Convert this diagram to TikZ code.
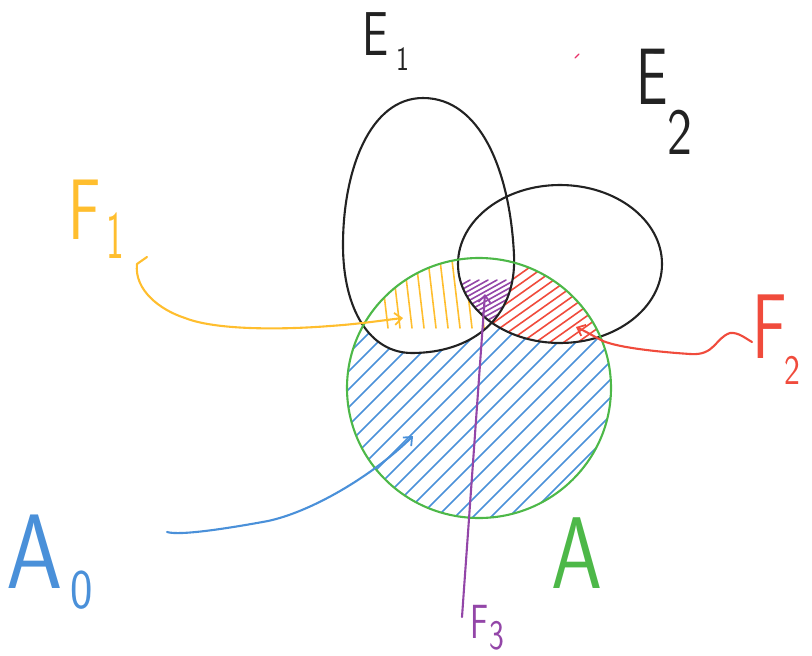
\documentclass[tikz,border=0pt]{standalone}
\usetikzlibrary{arrows.meta}
\definecolor{cblk}{HTML}{222222}
\definecolor{cgreen}{HTML}{4DB848}
\definecolor{cyel}{HTML}{FFBE2E}
\definecolor{cred}{HTML}{F04B3C}
\definecolor{cblue}{HTML}{4A90D9}
\definecolor{cpurp}{HTML}{9346A8}
\definecolor{cpink}{HTML}{E8336A}
\newcommand\hwsz[1]{\fontsize{#1}{#1}\selectfont}
\begin{document}
\begin{tikzpicture}[x=1pt,y=-1pt,line cap=round,line join=round,
  stroke/.style={line width=2.1pt},
  hatch/.style={line width=1.6pt},
  lbl/.style={inner sep=0pt,anchor=base west,font=\sffamily},
  tip/.style={-{Straight Barb[length=7pt,width=12pt,line width=1.8pt]}},
  pEone/.style={insert path={(423,98) .. controls (480,98) and (510,170) .. (514,255) .. controls (517,320) and (470,353) .. (412,353) .. controls (370,353) and (343,310) .. (343,245) .. controls (343,170) and (370,98) .. (423,98) -- cycle}},
  pEtwo/.style={insert path={(560,264) ellipse [x radius=102,y radius=79]}},
  pA/.style={insert path={(479,388) ellipse [x radius=132,y radius=130]}},
  outside/.style={insert path={(-50,-50) rectangle (900,750)}}]
\useasboundingbox (0,0) rectangle (812,656);

% hatching: yellow  (E1 and A, not E2)
\begin{scope}[even odd rule]
  \clip[pA];
  \clip[pEone];
  \clip[outside,pEtwo];
  \foreach \x in {380,392,...,480} \draw[cyel,hatch] (\x,260) -- ++(8,68);
\end{scope}
% purple (E1, E2 and A)
\begin{scope}
  \clip[pA];
  \clip[pEone];
  \clip[pEtwo];
  \foreach \x in {380,389,...,560} \draw[cpurp,hatch] (\x,330) -- ++(90,-50);
\end{scope}
% red (E2 and A, not E1)
\begin{scope}[even odd rule]
  \clip[pA];
  \clip[pEtwo];
  \clip[outside,pEone];
  \foreach \x in {420,434,...,640} \draw[cred,hatch] (\x,345) -- ++(120,-85);
\end{scope}
% blue (A, not E1, not E2)
\begin{scope}[even odd rule]
  \clip[pA];
  \clip[outside,pEone];
  \clip[outside,pEtwo];
  \foreach \x in {100,118,...,640} \draw[cblue,hatch] (\x,530) -- ++(280,-280);
\end{scope}

% sets
\draw[cblk,stroke,pEone];
\draw[cblk,stroke,pEtwo];
\draw[cgreen,stroke,pA];

% stray pen mark
\draw[cpink,line width=1.4pt] (575,58) -- (579,54);

% labels
\node[lbl,text=cblk,font=\sffamily\hwsz{62}] (E1) at (362,55)
  {\scalebox{0.75}[1]{E}\hspace{8pt}\raisebox{-15pt}{\hwsz{34}\scalebox{0.8}[1]{1}}};
\node[lbl,text=cblk,font=\sffamily\hwsz{80}] (E2) at (636,104)
  {\scalebox{0.7}[1]{E}\hspace{0pt}\raisebox{-50pt}{\hwsz{66}\scalebox{0.8}[1]{2}}};
\node[lbl,text=cyel,font=\sffamily\hwsz{86}] (F1) at (68,239)
  {\scalebox{0.7}[1]{F}\hspace{6pt}\raisebox{-19pt}{\hwsz{68}\scalebox{0.55}[1]{1}}};
\node[lbl,text=cred,font=\sffamily\hwsz{92}] (F2) at (752,358)
  {\scalebox{0.7}[1]{F}\hspace{-2pt}\raisebox{-26pt}{\hwsz{42}\scalebox{0.8}[1]{2}}};
\node[lbl,text=cblue,font=\sffamily\hwsz{106}] (A0) at (6,588)
  {\scalebox{0.85}[1]{A}\hspace{8pt}\raisebox{-20pt}{\hwsz{56}\scalebox{0.85}[1]{0}}};
\node[lbl,text=cgreen,font=\sffamily\hwsz{102}] (A) at (551,588)
  {\scalebox{0.8}[1]{A}};
\node[lbl,text=cpurp,font=\sffamily\hwsz{48}] (F3) at (470,638)
  {\scalebox{0.7}[1]{F}\hspace{1pt}\raisebox{-11pt}{\hwsz{42}\scalebox{0.75}[1]{3}}};

% connector ends
\coordinate (y0) at (147,257);
\coordinate (y1) at (403,318);
\coordinate (r0) at (752,342);
\coordinate (r1) at (576,327);
\coordinate (b0) at (167,532);
\coordinate (b1) at (413,436);
\coordinate (p0) at (462,617);
\coordinate (p1) at (485,294);

% connectors
\draw[cyel,stroke,tip] (y0) -- (137,264) .. controls (134,290) and (160,310) .. (185,318)
  .. controls (215,330) and (280,330) .. (330,326) .. controls (360,324) and (385,320) .. (y1);
\draw[cred,stroke,tip] (r0) .. controls (745,338) and (738,332) .. (730,333)
  .. controls (715,338) and (715,356) .. (690,354) .. controls (660,352) and (620,348) .. (603,341)
  .. controls (595,337) and (585,331) .. (r1);
\draw[cblue,stroke,tip] (b0) .. controls (180,536) and (230,528) .. (268,521)
  .. controls (310,512) and (370,478) .. (b1);
\draw[cpurp,stroke,tip] (p0) -- (p1);
\end{tikzpicture}
\end{document}
